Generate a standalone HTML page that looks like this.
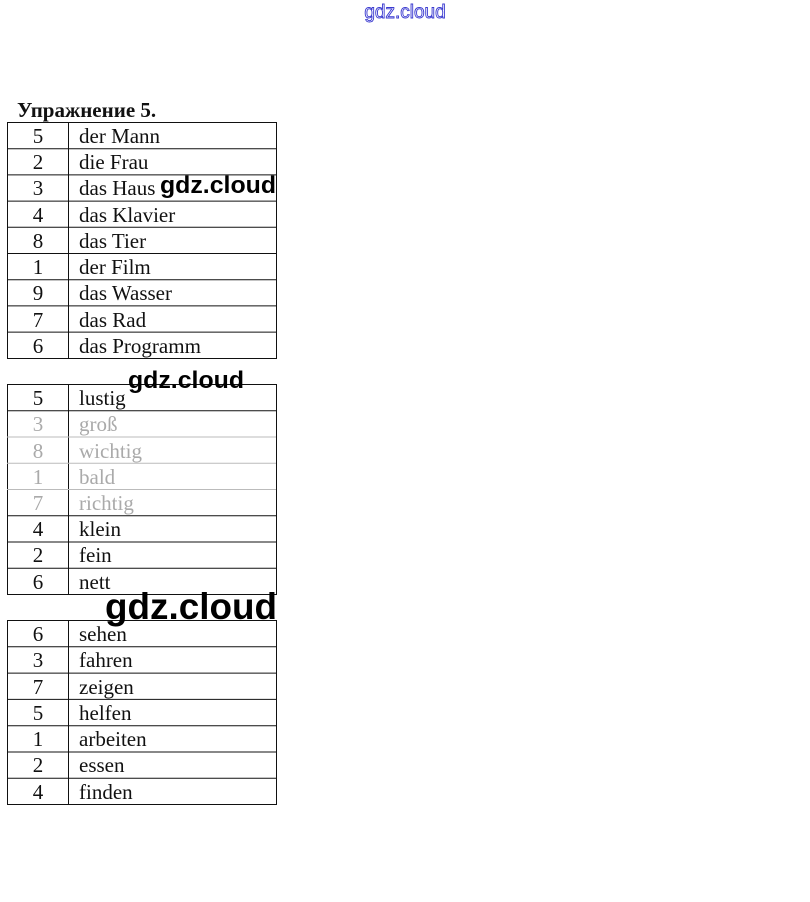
<!DOCTYPE html>
<html><head><meta charset="utf-8"><style>
html,body{margin:0;padding:0;background:#fff;width:810px;height:902px;overflow:hidden}
svg{display:block}
.t{font-family:"Liberation Serif",serif;font-size:21px;fill:#111}
.g{fill:#aaa}
.w{font-family:"Liberation Sans",sans-serif;font-weight:bold;fill:#000}
</style></head><body>
<svg width="810" height="902" xmlns="http://www.w3.org/2000/svg">
<text x="405" y="18" text-anchor="middle" font-family="Liberation Sans,sans-serif" font-size="19" fill="#fff" stroke="#3a3ad0" stroke-width="0.9">gdz.cloud</text>
<text x="17" y="117" font-family="Liberation Serif,serif" font-weight="bold" font-size="21" fill="#111">Упражнение 5.</text>
<g stroke="#111" stroke-width="1" fill="none">
<rect x="7.5" y="122.5" width="269" height="236"/>
<line x1="68.5" y1="122" x2="68.5" y2="358"/>
<line x1="7" y1="148.7" x2="276" y2="148.7"/><line x1="7" y1="174.9" x2="276" y2="174.9"/><line x1="7" y1="201.1" x2="276" y2="201.1"/><line x1="7" y1="227.3" x2="276" y2="227.3"/><line x1="7" y1="253.5" x2="276" y2="253.5"/><line x1="7" y1="279.7" x2="276" y2="279.7"/><line x1="7" y1="305.9" x2="276" y2="305.9"/><line x1="7" y1="332.1" x2="276" y2="332.1"/>
<rect x="7.5" y="384.5" width="269" height="210"/>
<line x1="68.5" y1="384" x2="68.5" y2="594"/>
<line x1="7" y1="410.8" x2="276" y2="410.8"/><line x1="7" y1="437" x2="276" y2="437" stroke="#bbb"/><line x1="7" y1="463.3" x2="276" y2="463.3" stroke="#bbb"/><line x1="7" y1="489.5" x2="276" y2="489.5" stroke="#bbb"/><line x1="7" y1="515.8" x2="276" y2="515.8"/><line x1="7" y1="542" x2="276" y2="542"/><line x1="7" y1="568.3" x2="276" y2="568.3"/>
<rect x="7.5" y="620.5" width="269" height="184"/>
<line x1="68.5" y1="620" x2="68.5" y2="804"/>
<line x1="7" y1="646.8" x2="276" y2="646.8"/><line x1="7" y1="673.1" x2="276" y2="673.1"/><line x1="7" y1="699.4" x2="276" y2="699.4"/><line x1="7" y1="725.7" x2="276" y2="725.7"/><line x1="7" y1="752" x2="276" y2="752"/><line x1="7" y1="778.3" x2="276" y2="778.3"/>
</g>
<g class="t">
<text x="38" y="143" text-anchor="middle">5</text><text x="79" y="143">der Mann</text>
<text x="38" y="169" text-anchor="middle">2</text><text x="79" y="169">die Frau</text>
<text x="38" y="195" text-anchor="middle">3</text><text x="79" y="195">das Haus</text>
<text x="38" y="222" text-anchor="middle">4</text><text x="79" y="222">das Klavier</text>
<text x="38" y="248" text-anchor="middle">8</text><text x="79" y="248">das Tier</text>
<text x="38" y="274" text-anchor="middle">1</text><text x="79" y="274">der Film</text>
<text x="38" y="300" text-anchor="middle">9</text><text x="79" y="300">das Wasser</text>
<text x="38" y="327" text-anchor="middle">7</text><text x="79" y="327">das Rad</text>
<text x="38" y="353" text-anchor="middle">6</text><text x="79" y="353">das Programm</text>

<text x="38" y="405" text-anchor="middle">5</text><text x="79" y="405">lustig</text>
<text class="g" x="38" y="431" text-anchor="middle">3</text><text class="g" x="79" y="431">groß</text>
<text class="g" x="38" y="458" text-anchor="middle">8</text><text class="g" x="79" y="458">wichtig</text>
<text class="g" x="38" y="484" text-anchor="middle">1</text><text class="g" x="79" y="484">bald</text>
<text class="g" x="38" y="510" text-anchor="middle">7</text><text class="g" x="79" y="510">richtig</text>
<text x="38" y="536" text-anchor="middle">4</text><text x="79" y="536">klein</text>
<text x="38" y="562" text-anchor="middle">2</text><text x="79" y="562">fein</text>
<text x="38" y="589" text-anchor="middle">6</text><text x="79" y="589">nett</text>

<text x="38" y="641" text-anchor="middle">6</text><text x="79" y="641">sehen</text>
<text x="38" y="667" text-anchor="middle">3</text><text x="79" y="667">fahren</text>
<text x="38" y="694" text-anchor="middle">7</text><text x="79" y="694">zeigen</text>
<text x="38" y="720" text-anchor="middle">5</text><text x="79" y="720">helfen</text>
<text x="38" y="746" text-anchor="middle">1</text><text x="79" y="746">arbeiten</text>
<text x="38" y="772" text-anchor="middle">2</text><text x="79" y="772">essen</text>
<text x="38" y="799" text-anchor="middle">4</text><text x="79" y="799">finden</text>
</g>
<text class="w" x="160" y="193" font-size="24" textLength="116" lengthAdjust="spacingAndGlyphs">gdz.cloud</text>
<text class="w" x="128" y="388" font-size="24" textLength="116" lengthAdjust="spacingAndGlyphs">gdz.cloud</text>
<text class="w" x="105" y="619" font-size="37" textLength="172" lengthAdjust="spacingAndGlyphs">gdz.cloud</text>
</svg>
</body></html>
